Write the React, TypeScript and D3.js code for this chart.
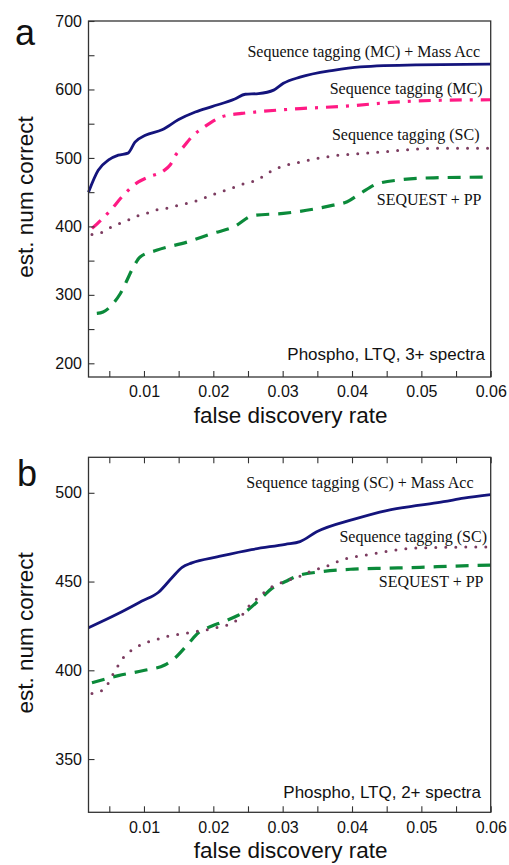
import React, { useEffect, useRef } from "react";
import * as d3 from "d3";

// panel a: phospho, LTQ, 3+ spectra
const mcMassX = [0.002, 0.0034, 0.0049, 0.0063, 0.0077, 0.0087, 0.0102, 0.0126, 0.015, 0.0174, 0.0198, 0.0231, 0.0246, 0.0265, 0.0287, 0.0301, 0.0325, 0.0373, 0.0412, 0.0494, 0.06];
const mcMassY = [450, 482, 497, 504, 507, 523, 533, 541, 556, 567, 575, 586, 593, 594, 599, 609, 618, 628, 633, 636, 637];
const mcX = [0.0025, 0.0054, 0.0068, 0.0092, 0.0106, 0.0128, 0.0138, 0.0147, 0.0155, 0.0169, 0.0188, 0.0212, 0.0241, 0.026, 0.0325, 0.0397, 0.0455, 0.0518, 0.06];
const mcY = [397, 426, 443, 465, 472, 481, 490, 506, 514, 531, 546, 560, 565, 567, 572, 576, 581, 584, 585];
const scX = [0.0025, 0.0041, 0.0056, 0.0073, 0.0087, 0.0104, 0.0118, 0.0135, 0.015, 0.0164, 0.0181, 0.0195, 0.021, 0.0227, 0.0243, 0.0258, 0.0292, 0.0325, 0.0373, 0.0421, 0.047, 0.0518, 0.06];
const scY = [388, 392, 401, 407, 414, 419, 424, 427, 431, 434, 439, 445, 450, 456, 462, 466, 485, 494, 503, 507, 511, 514, 514];
const seqX = [0.0032, 0.0041, 0.0066, 0.0085, 0.0094, 0.0118, 0.0162, 0.02, 0.0229, 0.0258, 0.0301, 0.0373, 0.0393, 0.0412, 0.0436, 0.047, 0.0518, 0.06];
const seqY = [273, 275, 302, 341, 355, 365, 377, 390, 399, 416, 419, 431, 436, 448, 462, 468, 471, 472];

// panel b: phospho, LTQ, 2+ spectra
const scMassX = [0.002, 0.0063, 0.0097, 0.0121, 0.014, 0.0155, 0.0169, 0.0207, 0.0255, 0.0304, 0.0325, 0.0349, 0.0402, 0.045, 0.0498, 0.0532, 0.0561, 0.06];
const scMassY = [424, 432, 439, 444, 452, 458, 460.5, 464, 468, 471, 472.5, 478, 485, 490, 493, 495, 497, 499];
const sc2X = [0.0025, 0.0041, 0.006, 0.007, 0.0085, 0.0099, 0.0116, 0.0132, 0.0147, 0.0162, 0.0178, 0.0193, 0.021, 0.0224, 0.0239, 0.0251, 0.0265, 0.028, 0.0296, 0.0325, 0.0342, 0.0359, 0.0388, 0.0421, 0.045, 0.0498, 0.06];
const sc2Y = [387, 389, 401, 407, 412, 415, 417, 419, 420, 421, 422, 423, 424.5, 426, 430, 436, 441, 446, 449, 453, 456, 458, 462.5, 465, 467, 469, 469.5];
const seq2X = [0.0025, 0.0063, 0.0101, 0.013, 0.0142, 0.0164, 0.0178, 0.0198, 0.0212, 0.0236, 0.0246, 0.027, 0.0284, 0.0304, 0.032, 0.0354, 0.0402, 0.045, 0.0498, 0.0546, 0.06];
const seq2Y = [393, 397, 400, 403, 406, 415, 421, 425, 427, 431, 433, 441, 446, 450, 453, 455.5, 457, 457.5, 458, 458.7, 459.3];

const xTicks = [0.005, 0.01, 0.015, 0.02, 0.025, 0.03, 0.035, 0.04, 0.045, 0.05, 0.055, 0.06];
const xLabels = [0.01, 0.02, 0.03, 0.04, 0.05, 0.06];
const yTicksA = [200, 250, 300, 350, 400, 450, 500, 550, 600, 650, 700];
const yLabelsA = [200, 300, 400, 500, 600, 700];
const yTicksB = [350, 400, 450, 500];

const SANS = "'Liberation Sans', Arial, sans-serif";
const SERIF = "'Liberation Serif', 'Times New Roman', serif";

const styles = {
  navy: { color: "#14147c", width: 2.8, dash: null },
  pink: { color: "#ff1a84", width: 3.2, dash: "12,8,3,8" },
  purple: { color: "#7c3c60", width: 3, dash: "0,10" },
  green: { color: "#0b8a3a", width: 3.2, dash: "13,9" },
};

const App = () => {
  const ref = useRef(null);

  useEffect(() => {
    const svg = d3.select(ref.current);
    svg.selectAll("*").remove();

    const left = 88.5, right = 490.7;
    const x = d3.scaleLinear().domain([0.002, 0.06]).range([left, right]);

    const drawPanel = (cfg) => {
      const { top, bottom, yDomain, yTicks, yLabels, series, notes, letter, topTicks } = cfg;
      const y = d3.scaleLinear().domain(yDomain).range([bottom, top]);
      const g = svg.append("g");

      // lines
      const line = d3.line().curve(d3.curveMonotoneX).x(d => x(d[0])).y(d => y(d[1]));
      series.forEach(s => {
        const st = styles[s.style];
        g.append("path")
          .datum(d3.zip(s.xs, s.ys))
          .attr("d", line)
          .attr("fill", "none")
          .attr("stroke", st.color)
          .attr("stroke-width", st.width)
          .attr("stroke-linecap", s.style === "purple" ? "round" : "butt")
          .attr("stroke-dasharray", st.dash);
      });

      // frame
      g.append("rect")
        .attr("x", left).attr("y", top)
        .attr("width", right - left).attr("height", bottom - top)
        .attr("fill", "none").attr("stroke", "#333").attr("stroke-width", 1.3);

      const xAxis = d3.axisBottom(x)
        .tickValues(xTicks)
        .tickSize(-6)
        .tickPadding(9)
        .tickFormat(d => (xLabels.some(v => Math.abs(v - d) < 1e-9) ? d3.format(".2f")(d) : ""));
      const gx = g.append("g").attr("transform", `translate(0,${bottom})`).call(xAxis);

      if (topTicks) {
        const gt = g.append("g").attr("transform", `translate(0,${top})`)
          .call(d3.axisTop(x).tickValues(xTicks).tickSize(-6).tickFormat(() => ""));
        gt.select(".domain").remove();
        gt.selectAll("line").attr("stroke", "#333").attr("stroke-width", 1.1);
      }

      const yAxis = d3.axisLeft(y)
        .tickValues(yTicks)
        .tickSize(-6)
        .tickPadding(6.5)
        .tickFormat(d => (yLabels.includes(d) ? String(d) : ""));
      const gy = g.append("g").attr("transform", `translate(${left},0)`).call(yAxis);

      [gx, gy].forEach(a => {
        a.select(".domain").remove();
        a.selectAll("line").attr("stroke", "#333").attr("stroke-width", 1.1);
        a.selectAll("text").attr("font-family", SANS).attr("font-size", 16).attr("fill", "#111");
      });

      // axis titles
      g.append("text")
        .attr("x", (left + right) / 2 + 1).attr("y", bottom + 45.5)
        .attr("text-anchor", "middle")
        .attr("font-family", SANS).attr("font-size", 22.5).attr("fill", "#111")
        .text("false discovery rate");
      g.append("text")
        .attr("transform", `translate(33,${(top + bottom) / 2 - 2}) rotate(-90)`)
        .attr("text-anchor", "middle")
        .attr("font-family", SANS).attr("font-size", 22.5).attr("fill", "#111")
        .text("est. num correct");

      // panel letter
      g.append("text")
        .attr("x", letter.x).attr("y", letter.y)
        .attr("font-family", SANS).attr("font-size", 36).attr("fill", "#111")
        .text(letter.t);

      // annotations
      notes.forEach(n => {
        g.append("text")
          .attr("x", n.x).attr("y", n.y)
          .attr("text-anchor", "end")
          .attr("font-family", n.sans ? SANS : SERIF)
          .attr("font-size", n.sans ? 17 : 16)
          .attr("fill", "#111")
          .text(n.t);
      });
    };

    drawPanel({
      top: 21, bottom: 377, yDomain: [180, 700], yTicks: yTicksA, yLabels: yLabelsA,
      letter: { t: "a", x: 15, y: 45 },
      series: [
        { xs: seqX, ys: seqY, style: "green" },
        { xs: scX, ys: scY, style: "purple" },
        { xs: mcX, ys: mcY, style: "pink" },
        { xs: mcMassX, ys: mcMassY, style: "navy" },
      ],
      notes: [
        { t: "Sequence tagging (MC) + Mass Acc", x: 480, y: 57 },
        { t: "Sequence tagging (MC)", x: 482.5, y: 94 },
        { t: "Sequence tagging (SC)", x: 479.5, y: 140 },
        { t: "SEQUEST + PP", x: 481.5, y: 205 },
        { t: "Phospho, LTQ, 3+ spectra", x: 485, y: 360, sans: true },
      ],
    });

    drawPanel({
      top: 457.3, bottom: 812.3, yDomain: [320, 520], yTicks: yTicksB, yLabels: yTicksB,
      letter: { t: "b", x: 17, y: 486 }, topTicks: true,
      series: [
        { xs: seq2X, ys: seq2Y, style: "green" },
        { xs: sc2X, ys: sc2Y, style: "purple" },
        { xs: scMassX, ys: scMassY, style: "navy" },
      ],
      notes: [
        { t: "Sequence tagging (SC) + Mass Acc", x: 473.5, y: 488 },
        { t: "Sequence tagging (SC)", x: 487, y: 541.5 },
        { t: "SEQUEST + PP", x: 483.5, y: 586.5 },
        { t: "Phospho, LTQ, 2+ spectra", x: 481, y: 797.5, sans: true },
      ],
    });
  }, []);

  return (
    <svg
      ref={ref}
      width={509}
      height={865}
      style={{ position: "absolute", left: 0, top: 0, background: "#fff" }}
    />
  );
};

export default App;
